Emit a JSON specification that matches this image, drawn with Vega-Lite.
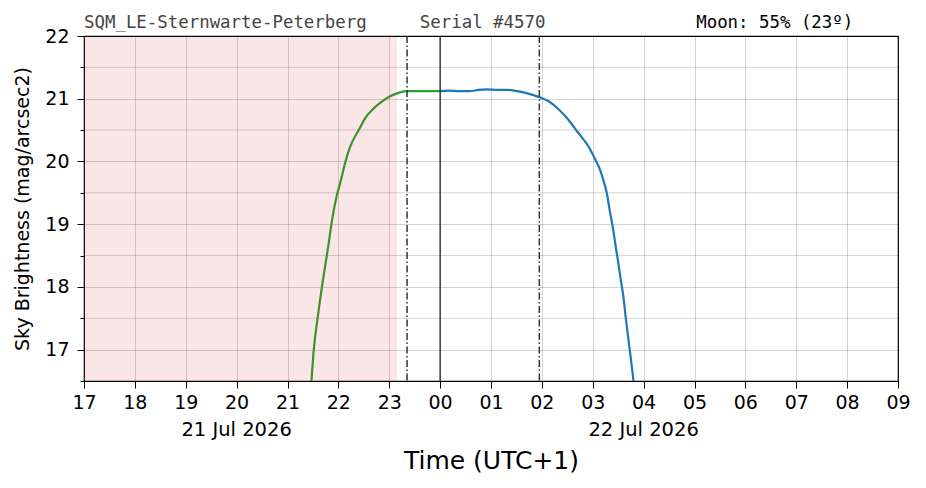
{
  "$schema": "https://vega.github.io/schema/vega-lite/v6.json",
  "width": 814,
  "height": 345,
  "autosize": {"type": "none"},
  "padding": {"left": 84, "top": 36, "right": 28, "bottom": 107},
  "background": "white",
  "config": {
    "view": {"stroke": "black", "strokeWidth": 1.2},
    "font": "DejaVu Sans",
    "axis": {"labelFont": "DejaVu Sans", "titleFont": "DejaVu Sans", "labelColor": "black", "titleColor": "black", "domain": false, "tickColor": "black", "tickWidth": 1}
  },
  "resolve": {"axis": {"y": "independent"}},
  "datasets": {
    "curve": [
      {"t": "2026-07-21T21:28:00Z", "v": 16.45, "s": "g"},
      {"t": "2026-07-21T21:31:00Z", "v": 17.0, "s": "g"},
      {"t": "2026-07-21T21:36:00Z", "v": 17.55, "s": "g"},
      {"t": "2026-07-21T21:41:30Z", "v": 18.08, "s": "g"},
      {"t": "2026-07-21T21:47:30Z", "v": 18.6, "s": "g"},
      {"t": "2026-07-21T21:53:20Z", "v": 19.13, "s": "g"},
      {"t": "2026-07-21T21:58:00Z", "v": 19.45, "s": "g"},
      {"t": "2026-07-21T22:03:00Z", "v": 19.7, "s": "g"},
      {"t": "2026-07-21T22:08:00Z", "v": 19.98, "s": "g"},
      {"t": "2026-07-21T22:14:00Z", "v": 20.24, "s": "g"},
      {"t": "2026-07-21T22:24:00Z", "v": 20.5, "s": "g"},
      {"t": "2026-07-21T22:32:00Z", "v": 20.7, "s": "g"},
      {"t": "2026-07-21T22:40:30Z", "v": 20.83, "s": "g"},
      {"t": "2026-07-21T22:50:00Z", "v": 20.94, "s": "g"},
      {"t": "2026-07-21T23:01:00Z", "v": 21.04, "s": "g"},
      {"t": "2026-07-21T23:10:00Z", "v": 21.09, "s": "g"},
      {"t": "2026-07-21T23:20:00Z", "v": 21.12, "s": "g"},
      {"t": "2026-07-21T23:35:00Z", "v": 21.12, "s": "g"},
      {"t": "2026-07-21T23:50:00Z", "v": 21.12, "s": "g"},
      {"t": "2026-07-22T00:00:00Z", "v": 21.12, "s": "g"},
      {"t": "2026-07-22T00:00:00Z", "v": 21.12, "s": "b"},
      {"t": "2026-07-22T00:10:00Z", "v": 21.13, "s": "b"},
      {"t": "2026-07-22T00:22:00Z", "v": 21.12, "s": "b"},
      {"t": "2026-07-22T00:35:00Z", "v": 21.12, "s": "b"},
      {"t": "2026-07-22T00:45:00Z", "v": 21.14, "s": "b"},
      {"t": "2026-07-22T00:55:00Z", "v": 21.15, "s": "b"},
      {"t": "2026-07-22T01:08:00Z", "v": 21.14, "s": "b"},
      {"t": "2026-07-22T01:19:00Z", "v": 21.14, "s": "b"},
      {"t": "2026-07-22T01:31:00Z", "v": 21.12, "s": "b"},
      {"t": "2026-07-22T01:42:00Z", "v": 21.09, "s": "b"},
      {"t": "2026-07-22T01:58:00Z", "v": 21.02, "s": "b"},
      {"t": "2026-07-22T02:08:00Z", "v": 20.96, "s": "b"},
      {"t": "2026-07-22T02:17:30Z", "v": 20.86, "s": "b"},
      {"t": "2026-07-22T02:29:00Z", "v": 20.7, "s": "b"},
      {"t": "2026-07-22T02:41:00Z", "v": 20.49, "s": "b"},
      {"t": "2026-07-22T02:57:00Z", "v": 20.19, "s": "b"},
      {"t": "2026-07-22T03:03:00Z", "v": 20.03, "s": "b"},
      {"t": "2026-07-22T03:08:30Z", "v": 19.87, "s": "b"},
      {"t": "2026-07-22T03:13:00Z", "v": 19.68, "s": "b"},
      {"t": "2026-07-22T03:16:30Z", "v": 19.5, "s": "b"},
      {"t": "2026-07-22T03:20:00Z", "v": 19.22, "s": "b"},
      {"t": "2026-07-22T03:24:00Z", "v": 18.92, "s": "b"},
      {"t": "2026-07-22T03:27:00Z", "v": 18.65, "s": "b"},
      {"t": "2026-07-22T03:30:00Z", "v": 18.39, "s": "b"},
      {"t": "2026-07-22T03:33:00Z", "v": 18.12, "s": "b"},
      {"t": "2026-07-22T03:36:00Z", "v": 17.86, "s": "b"},
      {"t": "2026-07-22T03:39:00Z", "v": 17.5, "s": "b"},
      {"t": "2026-07-22T03:42:00Z", "v": 17.17, "s": "b"},
      {"t": "2026-07-22T03:45:00Z", "v": 16.85, "s": "b"},
      {"t": "2026-07-22T03:48:30Z", "v": 16.45, "s": "b"}
    ],
    "halfs": [
      {"h": 17.5}, {"h": 18.5}, {"h": 19.5}, {"h": 20.5}, {"h": 21.5}
    ],
    "shade": [
      {"start": "2026-07-21T17:00:00Z", "end": "2026-07-21T23:09:00Z"}
    ],
    "vlines": [
      {"t": "2026-07-21T23:21:00Z", "kind": "dashdot"},
      {"t": "2026-07-22T01:57:00Z", "kind": "dashdot"},
      {"t": "2026-07-22T00:00:00Z", "kind": "solid"}
    ],
    "labels": [
      {"t": "2026-07-21T17:00:00Z", "text": "SQM_LE-Sternwarte-Peterberg", "c": "gray"},
      {"t": "2026-07-21T23:36:00Z", "text": "Serial #4570", "c": "gray"},
      {"t": "2026-07-22T05:02:00Z", "text": "Moon: 55% (23º)", "c": "black"}
    ],
    "dates": [
      {"t": "2026-07-21T20:00:00Z", "text": "21 Jul 2026"},
      {"t": "2026-07-22T04:00:00Z", "text": "22 Jul 2026"}
    ]
  },
  "layer": [
    {
      "data": {"name": "halfs"},
      "mark": {"type": "rule", "color": "#000000", "opacity": 0.22, "strokeWidth": 0.8},
      "encoding": {
        "y": {
          "field": "h", "type": "quantitative",
          "axis": {
            "orient": "left",
            "values": [16.5, 17.5, 18.5, 19.5, 20.5, 21.5],
            "labels": false,
            "grid": false,
            "title": null,
            "tickSize": 4
          }
        }
      }
    },
    {
      "data": {"name": "curve"},
      "mark": {"type": "line", "strokeWidth": 2.2, "clip": true, "interpolate": "monotone"},
      "encoding": {
        "x": {
          "field": "t", "type": "temporal",
          "scale": {"type": "utc", "domain": [{"year": 2026, "month": 7, "date": 21, "hours": 17, "utc": true}, {"year": 2026, "month": 7, "date": 22, "hours": 9, "utc": true}], "nice": false},
          "axis": {
            "title": "Time (UTC+1)",
            "titleFontSize": 25,
            "titleFontWeight": "normal",
            "titlePadding": 36,
            "format": "%H",
            "labelFontSize": 19,
            "labelPadding": 5,
            "labelOverlap": false,
            "labelFlush": false,
            "tickSize": 7,
            "grid": true,
            "gridColor": "#000000",
            "gridOpacity": 0.22,
            "gridWidth": 0.8
          }
        },
        "y": {
          "field": "v", "type": "quantitative",
          "scale": {"domain": [16.5, 22], "nice": false, "zero": false},
          "axis": {
            "orient": "left",
            "title": "Sky Brightness (mag/arcsec2)",
            "titleFontSize": 19,
            "titleFontWeight": "normal",
            "titlePadding": 12,
            "values": [17, 18, 19, 20, 21, 22],
            "format": "d",
            "labelFontSize": 19,
            "labelPadding": 8,
            "labelOverlap": false,
            "tickSize": 7,
            "grid": true,
            "gridColor": "#000000",
            "gridOpacity": 0.22,
            "gridWidth": 0.8
          }
        },
        "color": {"field": "s", "type": "nominal", "scale": {"domain": ["g", "b"], "range": ["#2ca02c", "#1f77b4"]}, "legend": null}
      }
    },
    {
      "data": {"name": "shade"},
      "mark": {"type": "rect", "color": "#d62728", "opacity": 0.11, "strokeOpacity": 0.06, "stroke": "#d62728", "strokeWidth": 1},
      "encoding": {
        "x": {"field": "start", "type": "temporal"},
        "x2": {"field": "end"}
      }
    },
    {
      "data": {"name": "vlines"},
      "transform": [{"filter": "datum.kind == 'dashdot'"}],
      "mark": {"type": "rule", "color": "#333333", "strokeWidth": 1.5, "strokeDash": [7, 2.5, 1.5, 2.5]},
      "encoding": {"x": {"field": "t", "type": "temporal"}}
    },
    {
      "data": {"name": "vlines"},
      "transform": [{"filter": "datum.kind == 'solid'"}],
      "mark": {"type": "rule", "color": "#222222", "strokeWidth": 1.3},
      "encoding": {"x": {"field": "t", "type": "temporal"}}
    },
    {
      "data": {"name": "labels"},
      "transform": [{"filter": "datum.c == 'gray'"}],
      "mark": {"type": "text", "font": "DejaVu Sans Mono", "fontSize": 17.4, "align": "left", "baseline": "bottom", "dy": -4, "color": "#444444"},
      "encoding": {
        "x": {"field": "t", "type": "temporal"},
        "y": {"datum": 22, "axis": null},
        "text": {"field": "text"}
      }
    },
    {
      "data": {"name": "labels"},
      "transform": [{"filter": "datum.c == 'black'"}],
      "mark": {"type": "text", "font": "DejaVu Sans Mono", "fontSize": 17.4, "align": "left", "baseline": "bottom", "dy": -4, "color": "#000000"},
      "encoding": {
        "x": {"field": "t", "type": "temporal"},
        "y": {"datum": 22, "axis": null},
        "text": {"field": "text"}
      }
    },
    {
      "data": {"name": "dates"},
      "mark": {"type": "text", "font": "DejaVu Sans", "fontSize": 19.5, "align": "center", "baseline": "middle", "dy": 49, "color": "#000000"},
      "encoding": {
        "x": {"field": "t", "type": "temporal"},
        "y": {"datum": 16.5, "axis": null},
        "text": {"field": "text"}
      }
    }
  ]
}
